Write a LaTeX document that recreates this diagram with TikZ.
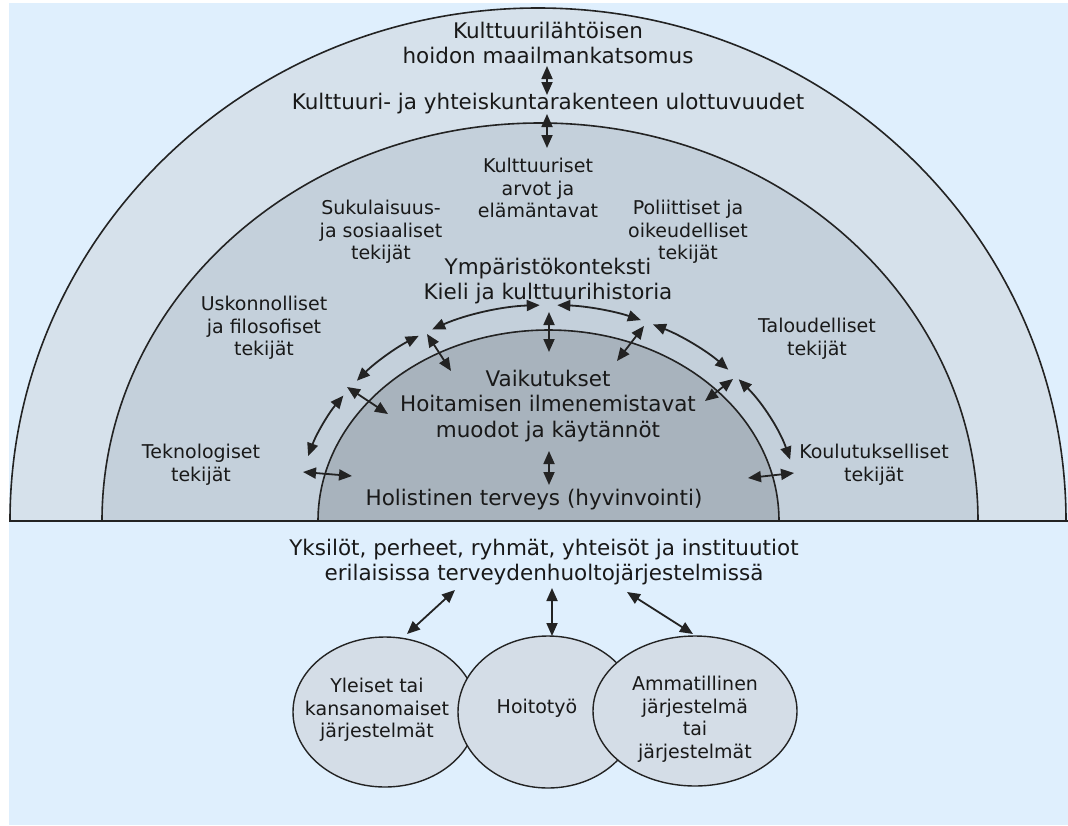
\documentclass[tikz,border=0pt]{standalone}
\usepackage{fontspec}
\setmainfont{DejaVu Sans}
\usetikzlibrary{arrows.meta,calc,shapes.geometric}
\definecolor{bgc}{RGB}{223,239,253}
\definecolor{outerc}{RGB}{214,225,235}
\definecolor{midc}{RGB}{196,208,219}
\definecolor{innerc}{RGB}{168,179,189}
\definecolor{ellc}{RGB}{212,221,231}
\definecolor{linec}{RGB}{35,35,35}
\definecolor{txtc}{RGB}{25,25,25}
\tikzset{
  band/.style={draw=linec, line width=1.6pt},
  tipx/.tip={Triangle[length=13pt,width=11pt]},
  dbl/.style={tipx-tipx, line width=1.8pt, draw=linec, fill=none},
  mainlbl/.style={text=txtc, align=center, font=\fontsize{21.5}{25.5}\selectfont, inner sep=0pt},
  sublbl/.style={text=txtc, align=center, font=\fontsize{19}{22.5}\selectfont, inner sep=0pt},
  syst/.style={draw=linec, line width=1.4pt, fill=ellc},
}
\begin{document}
\begin{tikzpicture}[x=1pt,y=-1pt]
\useasboundingbox (0,0) rectangle (1068,825);
\fill[white] (0,0) rectangle (1068,825);
\fill[bgc] (9,3) rectangle (1068,825);
% half ellipses
\filldraw[band, fill=outerc] (10,521) arc[start angle=180,end angle=360,x radius=528,y radius=513] -- cycle;
\filldraw[band, fill=midc] (102,521) arc[start angle=180,end angle=360,x radius=438,y radius=398] -- cycle;
\filldraw[band, fill=innerc] (318,521) arc[start angle=180,end angle=360,x radius=230.5,y radius=191] -- cycle;
\draw[line width=2.6pt, draw=linec] (9,521) -- (1068,521);

% labels
\node[mainlbl] (worldview) at (548,43) {Kulttuurilähtöisen\\hoidon maailmankatsomus};
\node[mainlbl] (dims) at (548,104) {Kulttuuri- ja yhteiskuntarakenteen ulottuvuudet};
\node[sublbl] (values) at (538,188) {Kulttuuriset\\arvot ja\\elämäntavat};
\node[sublbl] (kin) at (381,232) {Sukulaisuus-\\ja sosiaaliset\\tekijät};
\node[sublbl] (pol) at (688,232) {Poliittiset ja\\oikeudelliset\\tekijät};
\node[mainlbl] (env) at (548,281) {Ympäristökonteksti\\Kieli ja kulttuurihistoria};
\node[sublbl] (rel) at (264,328) {Uskonnolliset\\ja filosofiset\\tekijät};
\node[sublbl] (eco) at (817,339) {Taloudelliset\\tekijät};
\node[sublbl] (tech) at (201,465) {Teknologiset\\tekijät};
\node[sublbl] (edu) at (874,465) {Koulutukselliset\\tekijät};
\node[mainlbl] (infl) at (548,406) {Vaikutukset\\Hoitamisen ilmenemistavat\\muodot ja käytännöt};
\node[mainlbl] (health) at (534,500) {Holistinen terveys (hyvinvointi)};
\node[mainlbl] (people) at (544,562) {Yksilöt, perheet, ryhmät, yhteisöt ja instituutiot\\erilaisissa terveydenhuoltojärjestelmissä};

% top arrows
\coordinate (t1a) at (547,66); \coordinate (t1b) at (547,95);
\coordinate (t2a) at (547,114); \coordinate (t2b) at (547,148);
\draw[dbl] (t1a) -- (t1b);
\draw[dbl] (t2a) -- (t2b);

% arrow arc around inner dome
\coordinate (ac) at (548.5,521);
\foreach \n/\s/\e in {A/-117.5/-92, B/-88/-68.5, C/-121/-139.5, D/-144.5/-162.5, E/-65.5/-44.5, F/-41/-16.5}{
  \coordinate (arc\n) at ($(ac)+(\s:252 and 216)$);
  \draw[dbl] (arc\n) arc[start angle=\s,end angle=\e,x radius=252,y radius=216];
}
% radial arrows
\coordinate (r1a) at (549,312); \coordinate (r1b) at (549,352);
\coordinate (r2a) at (427,334); \coordinate (r2b) at (451,371);
\coordinate (r3a) at (347,387); \coordinate (r3b) at (388,414);
\coordinate (r4a) at (303,472); \coordinate (r4b) at (352,476);
\coordinate (r5a) at (644,326); \coordinate (r5b) at (617,361);
\coordinate (r6a) at (733,379); \coordinate (r6b) at (705,401);
\coordinate (r7a) at (794,473); \coordinate (r7b) at (748,478);
\coordinate (r8a) at (549,451); \coordinate (r8b) at (549,485);
\foreach \i in {1,...,8}{ \draw[dbl] (r\i a) -- (r\i b); }

% bottom systems
\node[syst, ellipse, minimum width=184pt, minimum height=150pt] (folk) at (385,712) {};
\node[syst, ellipse, minimum width=180pt, minimum height=152pt] (nursing) at (548,712) {};
\node[syst, ellipse, minimum width=204pt, minimum height=150pt] (prof) at (695,711) {};
\node[sublbl] (folkt) at (377,710) {Yleiset tai\\kansanomaiset\\järjestelmät};
\node[sublbl] (nursingt) at (537,708) {Hoitotyö};
\node[sublbl] (proft) at (695,719) {Ammatillinen\\järjestelmä\\tai\\järjestelmät};

\coordinate (b1a) at (455,590); \coordinate (b1b) at (407,634);
\coordinate (b2a) at (552,588); \coordinate (b2b) at (552,636);
\coordinate (b3a) at (627,592); \coordinate (b3b) at (693,634);
\draw[dbl] (b1a) -- (b1b);
\draw[dbl] (b2a) -- (b2b);
\draw[dbl] (b3a) -- (b3b);
\end{tikzpicture}
\end{document}
